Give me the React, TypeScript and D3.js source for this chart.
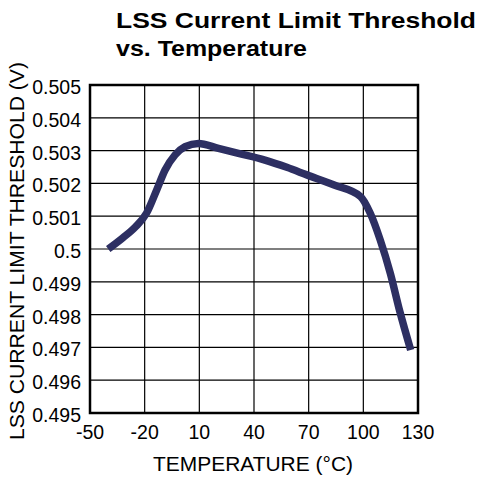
import React from "react";
import * as d3 from "d3";

const temps = [-40, -32, -25, -19, -13.4, -8.8, -3.3, 2.2, 9.5, 20.5, 32, 46, 58, 69, 84, 98.4, 103.8, 109.3, 114.8, 120, 126];
const volts = [0.5, 0.50034, 0.50068, 0.50109, 0.5018, 0.50241, 0.50287, 0.50312, 0.50322, 0.50307, 0.50291, 0.50271, 0.50249, 0.50226, 0.50195, 0.5016, 0.50109, 0.50027, 0.49926, 0.4981, 0.49692];
const xTicks = [-50, -20, 10, 40, 70, 100, 130];
const yTicks = [0.495, 0.496, 0.497, 0.498, 0.499, 0.5, 0.501, 0.502, 0.503, 0.504, 0.505];

const W = 482, H = 477;
const L = 90, R = 418, T = 85, B = 413;
const FONT = "'Liberation Sans', Arial, sans-serif";

export default function App() {
  const x = d3.scaleLinear().domain([-50, 130]).range([L, R]);
  const y = d3.scaleLinear().domain([0.495, 0.505]).range([B, T]);
  const line = d3.line<number>().x((_, i) => x(temps[i])).y((v) => y(v)).curve(d3.curveMonotoneX);
  const fmtY = (v: number) => {
    const s = d3.format(".3f")(v);
    return s === "0.500" ? "0.5" : s;
  };
  return (
    <svg width={W} height={H} style={{ position: "absolute", left: 0, top: 0, background: "#fff" }}>
      <text x={116} y={28} fontFamily={FONT} fontWeight="bold" fontSize={22.5} textLength={360} lengthAdjust="spacingAndGlyphs">LSS Current Limit Threshold</text>
      <text x={116} y={56} fontFamily={FONT} fontWeight="bold" fontSize={22.5} textLength={191} lengthAdjust="spacingAndGlyphs">vs. Temperature</text>
      {yTicks.map((t) => (
        <line key={"h" + t} x1={L} x2={R} y1={y(t)} y2={y(t)} stroke="#000" strokeWidth={1.2} />
      ))}
      {xTicks.map((t) => (
        <line key={"v" + t} x1={x(t)} x2={x(t)} y1={T} y2={B} stroke="#000" strokeWidth={1.2} />
      ))}
      <rect x={L} y={T} width={R - L} height={B - T} fill="none" stroke="#000" strokeWidth={2.5} />
      <path d={line(volts) || ""} fill="none" stroke="#2d2f62" strokeWidth={7.5} strokeLinejoin="round" />
      {yTicks.map((t) => (
        <text key={"yl" + t} x={81} y={y(t) + 9} textAnchor="end" fontFamily={FONT} fontSize={19.5}>{fmtY(t)}</text>
      ))}
      {xTicks.map((t) => (
        <text key={"xl" + t} x={x(t)} y={439} textAnchor="middle" fontFamily={FONT} fontSize={19.5}>{t}</text>
      ))}
      <text x={253} y={471} textAnchor="middle" fontFamily={FONT} fontSize={19.5} textLength={200} lengthAdjust="spacingAndGlyphs">TEMPERATURE (°C)</text>
      <text transform={`translate(24,251) rotate(-90)`} textAnchor="middle" fontFamily={FONT} fontSize={20} textLength={378} lengthAdjust="spacingAndGlyphs">LSS CURRENT LIMIT THRESHOLD (V)</text>
    </svg>
  );
}
